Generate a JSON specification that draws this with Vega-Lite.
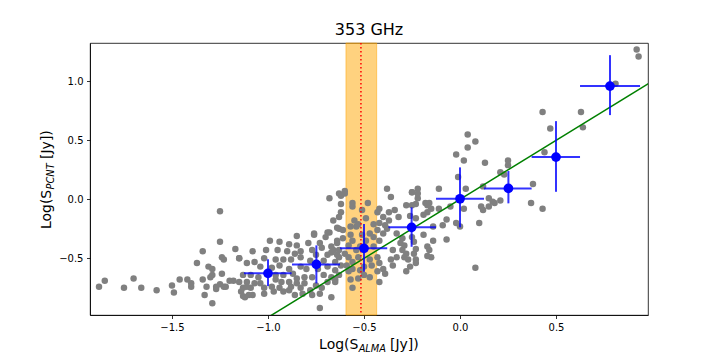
{
  "$schema": "https://vega.github.io/schema/vega-lite/v6.json",
  "autosize": {"type": "none"},
  "padding": {"left": 90, "top": 43, "right": 72, "bottom": 45},
  "width": 558,
  "height": 272,
  "background": "white",
  "config": {
    "view": {"stroke": "black", "strokeWidth": 0.8},
    "font": "DejaVu Sans",
    "axis": {"labelFont": "DejaVu Sans", "labelFontSize": 10, "labelColor": "black", "tickColor": "black", "tickSize": 3.5, "tickWidth": 0.8, "domainColor": "black", "domainWidth": 0.8, "grid": false, "labelPadding": 3.5, "title": null}
  },
  "title": {"text": "353 GHz", "frame": "group", "anchor": "middle", "fontSize": 16, "fontWeight": "normal", "font": "DejaVu Sans", "color": "black", "baseline": "alphabetic", "offset": -9},
  "datasets": {
    "band": [{"lo": -0.594, "hi": -0.434}],
    "gray": [
      {"x":0.92,"y":1.27},{"x":0.93,"y":1.21},{"x":0.81,"y":0.98},{"x":0.63,"y":0.74},{"x":0.64,"y":0.61},{"x":0.43,"y":0.74},{"x":0.47,"y":0.60},{"x":0.44,"y":0.40},{"x":0.38,"y":0.13},{"x":0.37,"y":-0.03},{"x":0.43,"y":-0.08},
      {"x":0.04,"y":0.55},{"x":0.08,"y":0.49},{"x":0.04,"y":0.44},{"x":-0.02,"y":0.38},{"x":0.02,"y":0.33},{"x":0.13,"y":0.31},{"x":0.25,"y":0.33},{"x":0.25,"y":0.29},{"x":0.21,"y":0.23},{"x":0.23,"y":0.21},{"x":0.12,"y":0.11},{"x":-0.01,"y":0.19},{"x":-0.11,"y":0.09},{"x":0.03,"y":0.09},{"x":-0.22,"y":0.09},{"x":-0.25,"y":0.06},{"x":-0.22,"y":0.05},{"x":-0.22,"y":0.01},{"x":-0.18,"y":-0.03},{"x":-0.16,"y":-0.03},{"x":-0.17,"y":-0.05},{"x":-0.15,"y":-0.08},{"x":-0.17,"y":-0.11},{"x":-0.11,"y":-0.08},{"x":-0.05,"y":-0.06},{"x":0.02,"y":-0.08},{"x":0.11,"y":-0.06},{"x":0.12,"y":-0.09},{"x":0.15,"y":0.01},{"x":0.17,"y":-0.02},{"x":0.18,"y":-0.03},{"x":0.21,"y":-0.01},{"x":0.15,"y":-0.06},{"x":-0.19,"y":-0.13},{"x":-0.23,"y":-0.16},{"x":-0.07,"y":-0.17},{"x":-0.09,"y":-0.22},{"x":-0.02,"y":-0.20},{"x":0.00,"y":-0.23},{"x":0.10,"y":-0.20},{"x":-0.14,"y":-0.23},{"x":-0.19,"y":-0.30},{"x":-0.14,"y":-0.35},{"x":-0.07,"y":-0.34},{"x":-0.17,"y":-0.40},{"x":-0.16,"y":-0.43},{"x":-0.23,"y":-0.42},{"x":-0.17,"y":-0.48},{"x":-0.23,"y":-0.51},{"x":0.08,"y":-0.58},{"x":-0.25,"y":-0.32},{"x":-0.24,"y":-0.36},
      {"x":-0.38,"y":0.09},{"x":-0.36,"y":0.02},{"x":-0.25,"y":0.06},{"x":-0.23,"y":-0.04},{"x":-0.26,"y":-0.14},{"x":-0.48,"y":-0.03},{"x":-0.56,"y":-0.03},{"x":-0.56,"y":-0.06},{"x":-0.60,"y":0.05},{"x":-0.63,"y":0.05},{"x":-0.68,"y":0.01},{"x":-0.62,"y":-0.11},{"x":-0.63,"y":-0.15},{"x":-0.66,"y":-0.18},{"x":-0.55,"y":-0.18},{"x":-0.54,"y":-0.23},{"x":-0.57,"y":-0.23},{"x":-0.64,"y":-0.24},{"x":-0.61,"y":-0.26},{"x":-0.57,"y":-0.30},{"x":-0.61,"y":-0.33},{"x":-0.64,"y":-0.35},{"x":-0.56,"y":-0.35},{"x":-0.58,"y":-0.39},{"x":-0.67,"y":-0.40},{"x":-0.66,"y":-0.43},{"x":-0.63,"y":-0.43},{"x":-0.63,"y":-0.49},{"x":-0.58,"y":-0.49},{"x":-0.65,"y":-0.53},{"x":-0.59,"y":-0.56},{"x":-0.56,"y":-0.53},{"x":-0.54,"y":-0.43},{"x":-0.57,"y":-0.68},{"x":-0.63,"y":-0.64},{"x":-0.65,"y":-0.70},{"x":-0.56,"y":-0.75},{"x":-0.67,"y":-0.83},{"x":-0.43,"y":-0.11},{"x":-0.42,"y":-0.08},{"x":-0.40,"y":-0.15},{"x":-0.37,"y":-0.11},{"x":-0.34,"y":-0.09},{"x":-0.32,"y":-0.15},{"x":-0.37,"y":-0.18},{"x":-0.42,"y":-0.20},{"x":-0.39,"y":-0.22},{"x":-0.43,"y":-0.26},{"x":-0.40,"y":-0.29},{"x":-0.45,"y":-0.32},{"x":-0.42,"y":-0.35},{"x":-0.47,"y":-0.29},{"x":-0.49,"y":-0.35},{"x":-0.45,"y":-0.40},{"x":-0.43,"y":-0.49},{"x":-0.42,"y":-0.54},{"x":-0.40,"y":-0.59},{"x":-0.43,"y":-0.61},{"x":-0.42,"y":-0.70},{"x":-0.47,"y":-0.51},{"x":-0.46,"y":-0.56},{"x":-0.47,"y":-0.66},{"x":-0.33,"y":-0.29},{"x":-0.30,"y":-0.33},{"x":-0.31,"y":-0.37},{"x":-0.29,"y":-0.39},{"x":-0.30,"y":-0.43},{"x":-0.28,"y":-0.46},{"x":-0.29,"y":-0.49},{"x":-0.27,"y":-0.51},{"x":-0.24,"y":-0.46},{"x":-0.23,"y":-0.54},{"x":-0.26,"y":-0.57},{"x":-0.28,"y":-0.61},{"x":-0.35,"y":-0.43},{"x":-0.33,"y":-0.49},{"x":-0.36,"y":-0.51},{"x":-0.53,"y":-0.49},{"x":-0.50,"y":-0.57},{"x":-0.52,"y":-0.60},{"x":-0.50,"y":-0.64},{"x":-0.53,"y":-0.67},{"x":-0.56,"y":-0.59},{"x":-0.58,"y":-0.61},
      {"x":-0.38,"y":-0.25},{"x":-0.35,"y":-0.56},{"x":-0.39,"y":-0.63},{"x":-0.15,"y":-0.49},{"x":-0.28,"y":-0.05},{"x":-0.25,"y":-0.05},{"x":-0.62,"y":-0.04},{"x":-0.60,"y":0.07},{"x":-0.62,"y":0.03},
      {"x":-0.68,"y":-0.28},{"x":-0.76,"y":-0.30},{"x":-0.70,"y":-0.32},{"x":-0.85,"y":-0.31},{"x":-0.79,"y":-0.37},{"x":-0.73,"y":-0.37},{"x":-0.64,"y":-0.37},{"x":-0.99,"y":-0.35},{"x":-0.94,"y":-0.36},{"x":-0.89,"y":-0.38},{"x":-0.85,"y":-0.39},{"x":-0.95,"y":-0.43},{"x":-0.90,"y":-0.44},{"x":-0.83,"y":-0.44},{"x":-0.77,"y":-0.43},{"x":-1.08,"y":-0.44},{"x":-1.02,"y":-0.50},{"x":-0.96,"y":-0.51},{"x":-0.92,"y":-0.51},{"x":-0.88,"y":-0.51},{"x":-0.83,"y":-0.49},{"x":-0.69,"y":-0.47},{"x":-0.64,"y":-0.47},{"x":-1.15,"y":-0.50},{"x":-1.11,"y":-0.54},{"x":-1.07,"y":-0.53},{"x":-1.04,"y":-0.57},{"x":-0.94,"y":-0.56},{"x":-0.89,"y":-0.59},{"x":-0.83,"y":-0.57},{"x":-0.80,"y":-0.59},{"x":-0.69,"y":-0.57},{"x":-0.65,"y":-0.60},{"x":-1.13,"y":-0.64},{"x":-1.09,"y":-0.64},{"x":-1.05,"y":-0.66},{"x":-0.96,"y":-0.64},{"x":-0.92,"y":-0.64},{"x":-0.87,"y":-0.63},{"x":-0.85,"y":-0.67},{"x":-0.81,"y":-0.66},{"x":-0.77,"y":-0.66},{"x":-0.71,"y":-0.64},{"x":-0.67,"y":-0.66},{"x":-1.15,"y":-0.70},{"x":-1.11,"y":-0.70},{"x":-1.07,"y":-0.71},{"x":-1.04,"y":-0.71},{"x":-0.96,"y":-0.68},{"x":-0.93,"y":-0.70},{"x":-0.89,"y":-0.70},{"x":-0.85,"y":-0.71},{"x":-0.81,"y":-0.71},{"x":-0.75,"y":-0.73},{"x":-0.69,"y":-0.70},{"x":-0.65,"y":-0.68},{"x":-1.13,"y":-0.75},{"x":-1.09,"y":-0.75},{"x":-1.02,"y":-0.75},{"x":-0.98,"y":-0.74},{"x":-0.94,"y":-0.75},{"x":-0.89,"y":-0.77},{"x":-0.83,"y":-0.75},{"x":-0.78,"y":-0.77},{"x":-0.72,"y":-0.75},{"x":-1.12,"y":-0.83},{"x":-1.08,"y":-0.81},{"x":-1.02,"y":-0.80},{"x":-0.97,"y":-0.78},{"x":-0.92,"y":-0.78},{"x":-0.86,"y":-0.81},{"x":-0.82,"y":-0.80},{"x":-0.77,"y":-0.81},{"x":-0.73,"y":-0.80},{"x":-0.73,"y":-0.92},{"x":-1.14,"y":-0.78},{"x":-1.01,"y":-0.43},{"x":-0.69,"y":-0.28},{"x":-0.63,"y":-0.25},{"x":-0.76,"y":-0.29},
      {"x":-0.72,"y":-0.41},{"x":-0.67,"y":-0.45},{"x":-0.75,"y":-0.47},{"x":-0.71,"y":-0.52},{"x":-0.62,"y":-0.56},{"x":-0.60,"y":-0.46},{"x":-0.78,"y":-0.52},{"x":-0.86,"y":-0.46},{"x":-0.98,"y":-0.58},{"x":-0.88,"y":-0.74},{"x":-0.74,"y":-0.59},{"x":-0.52,"y":-0.40},{"x":-0.51,"y":-0.30},{"x":-0.53,"y":-0.21},{"x":-0.49,"y":-0.16},{"x":-0.45,"y":-0.21},{"x":-0.51,"y":-0.09},
      {"x":-1.25,"y":-0.10},{"x":-1.25,"y":-0.36},{"x":-1.34,"y":-0.44},{"x":-1.17,"y":-0.42},{"x":-1.37,"y":-0.54},{"x":-1.31,"y":-0.57},{"x":-1.29,"y":-0.59},{"x":-1.24,"y":-0.49},{"x":-1.23,"y":-0.51},{"x":-1.15,"y":-0.50},{"x":-1.29,"y":-0.64},{"x":-1.30,"y":-0.66},{"x":-1.24,"y":-0.63},{"x":-1.88,"y":-0.74},{"x":-1.85,"y":-0.69},{"x":-1.75,"y":-0.75},{"x":-1.70,"y":-0.67},{"x":-1.66,"y":-0.75},{"x":-1.58,"y":-0.77},{"x":-1.50,"y":-0.73},{"x":-1.49,"y":-0.79},{"x":-1.46,"y":-0.68},{"x":-1.42,"y":-0.68},{"x":-1.40,"y":-0.71},{"x":-1.40,"y":-0.74},{"x":-1.34,"y":-0.68},{"x":-1.32,"y":-0.74},{"x":-1.27,"y":-0.74},{"x":-1.27,"y":-0.76},{"x":-1.25,"y":-0.72},{"x":-1.23,"y":-0.74},{"x":-1.22,"y":-0.74},{"x":-1.20,"y":-0.69},{"x":-1.18,"y":-0.69},{"x":-1.11,"y":-0.74},{"x":-1.33,"y":-0.81},{"x":-1.29,"y":-0.88},{"x":-1.13,"y":-0.82},{"x":-1.10,"y":-0.81}
    ],
    "bins": [
      {"x":-1.0,"y":-0.627,"xlo":-1.125,"xhi":-0.877,"ylo":-0.735,"yhi":-0.508},
      {"x":-0.748,"y":-0.551,"xlo":-0.875,"xhi":-0.625,"ylo":-0.712,"yhi":-0.39},
      {"x":-0.5,"y":-0.415,"xlo":-0.625,"xhi":-0.379,"ylo":-0.614,"yhi":-0.209},
      {"x":-0.252,"y":-0.237,"xlo":-0.373,"xhi":-0.125,"ylo":-0.402,"yhi":-0.068},
      {"x":0.0,"y":0.005,"xlo":-0.125,"xhi":0.125,"ylo":-0.237,"yhi":0.271},
      {"x":0.252,"y":0.093,"xlo":0.125,"xhi":0.373,"ylo":-0.034,"yhi":0.24},
      {"x":0.5,"y":0.358,"xlo":0.373,"xhi":0.625,"ylo":0.064,"yhi":0.663},
      {"x":0.781,"y":0.96,"xlo":0.625,"xhi":0.9375,"ylo":0.714,"yhi":1.222}
    ],
    "oneline": [{"x":-1.2,"y":-1.2},{"x":1.2,"y":1.2}],
    "median": [{"x": -0.516}],
    "blank": [{}]
  },
  "layer": [
    {
      "data": {"name": "band"},
      "mark": {"type": "rect", "fill": "#ffa500", "fillOpacity": 0.5, "stroke": "#ffa500", "strokeOpacity": 0.5, "strokeWidth": 1},
      "encoding": {
        "x": {"field": "lo", "type": "quantitative", "scale": {"domain": [-1.927, 0.979], "nice": false, "zero": false},
              "axis": {"values": [-1.5, -1, -0.5, 0, 0.5], "format": ".1f"}},
        "x2": {"field": "hi"},
        "y": {"datum": -0.98, "type": "quantitative", "scale": {"domain": [-0.98, 1.325], "nice": false, "zero": false},
              "axis": {"values": [-0.5, 0, 0.5, 1], "format": ".1f"}},
        "y2": {"datum": 1.325}
      }
    },
    {
      "data": {"name": "gray"},
      "mark": {"type": "circle", "color": "#808080", "opacity": 1, "size": 42},
      "encoding": {
        "x": {"field": "x", "type": "quantitative"},
        "y": {"field": "y", "type": "quantitative"}
      }
    },
    {
      "data": {"name": "oneline"},
      "mark": {"type": "line", "color": "#008000", "strokeWidth": 1.5, "clip": true},
      "encoding": {
        "x": {"field": "x", "type": "quantitative"},
        "y": {"field": "y", "type": "quantitative"}
      }
    },
    {
      "data": {"name": "median"},
      "mark": {"type": "rule", "color": "#ff0000", "strokeWidth": 1.5, "strokeDash": [1.5, 2.5]},
      "encoding": {
        "x": {"field": "x", "type": "quantitative"}
      }
    },
    {
      "data": {"name": "bins"},
      "mark": {"type": "rule", "color": "#0000ff", "opacity": 0.8, "strokeWidth": 2},
      "encoding": {
        "x": {"field": "xlo", "type": "quantitative"},
        "x2": {"field": "xhi"},
        "y": {"field": "y", "type": "quantitative"}
      }
    },
    {
      "data": {"name": "bins"},
      "mark": {"type": "rule", "color": "#0000ff", "opacity": 0.8, "strokeWidth": 2},
      "encoding": {
        "x": {"field": "x", "type": "quantitative"},
        "y": {"field": "ylo", "type": "quantitative"},
        "y2": {"field": "yhi"}
      }
    },
    {
      "data": {"name": "bins"},
      "mark": {"type": "circle", "color": "#0000ff", "opacity": 1, "size": 95},
      "encoding": {
        "x": {"field": "x", "type": "quantitative"},
        "y": {"field": "y", "type": "quantitative"}
      }
    },
    {
      "data": {"name": "blank"},
      "mark": {"type": "text", "text": "Log(S", "font": "DejaVu Sans", "fontSize": 14, "align": "left", "baseline": "alphabetic", "color": "black"},
      "encoding": {"x": {"datum": -0.734, "type": "quantitative"}, "y": {"datum": -1.269, "type": "quantitative"}}
    },
    {
      "data": {"name": "blank"},
      "mark": {"type": "text", "text": "ALMA", "font": "DejaVu Sans", "fontSize": 9.8, "fontStyle": "italic", "align": "left", "baseline": "alphabetic", "color": "black"},
      "encoding": {"x": {"datum": -0.528, "type": "quantitative"}, "y": {"datum": -1.294, "type": "quantitative"}}
    },
    {
      "data": {"name": "blank"},
      "mark": {"type": "text", "text": "[Jy])", "font": "DejaVu Sans", "fontSize": 14, "align": "left", "baseline": "alphabetic", "color": "black"},
      "encoding": {"x": {"datum": -0.365, "type": "quantitative"}, "y": {"datum": -1.269, "type": "quantitative"}}
    },
    {
      "data": {"name": "blank"},
      "mark": {"type": "text", "text": "Log(S", "font": "DejaVu Sans", "fontSize": 14, "align": "left", "baseline": "alphabetic", "angle": 270, "color": "black"},
      "encoding": {"x": {"datum": -2.130, "type": "quantitative"}, "y": {"datum": -0.252, "type": "quantitative"}}
    },
    {
      "data": {"name": "blank"},
      "mark": {"type": "text", "text": "PCNT", "font": "DejaVu Sans", "fontSize": 9.8, "fontStyle": "italic", "align": "left", "baseline": "alphabetic", "angle": 270, "color": "black"},
      "encoding": {"x": {"datum": -2.115, "type": "quantitative"}, "y": {"datum": 0.084, "type": "quantitative"}}
    },
    {
      "data": {"name": "blank"},
      "mark": {"type": "text", "text": "[Jy])", "font": "DejaVu Sans", "fontSize": 14, "align": "left", "baseline": "alphabetic", "angle": 270, "color": "black"},
      "encoding": {"x": {"datum": -2.130, "type": "quantitative"}, "y": {"datum": 0.342, "type": "quantitative"}}
    }
  ]
}
